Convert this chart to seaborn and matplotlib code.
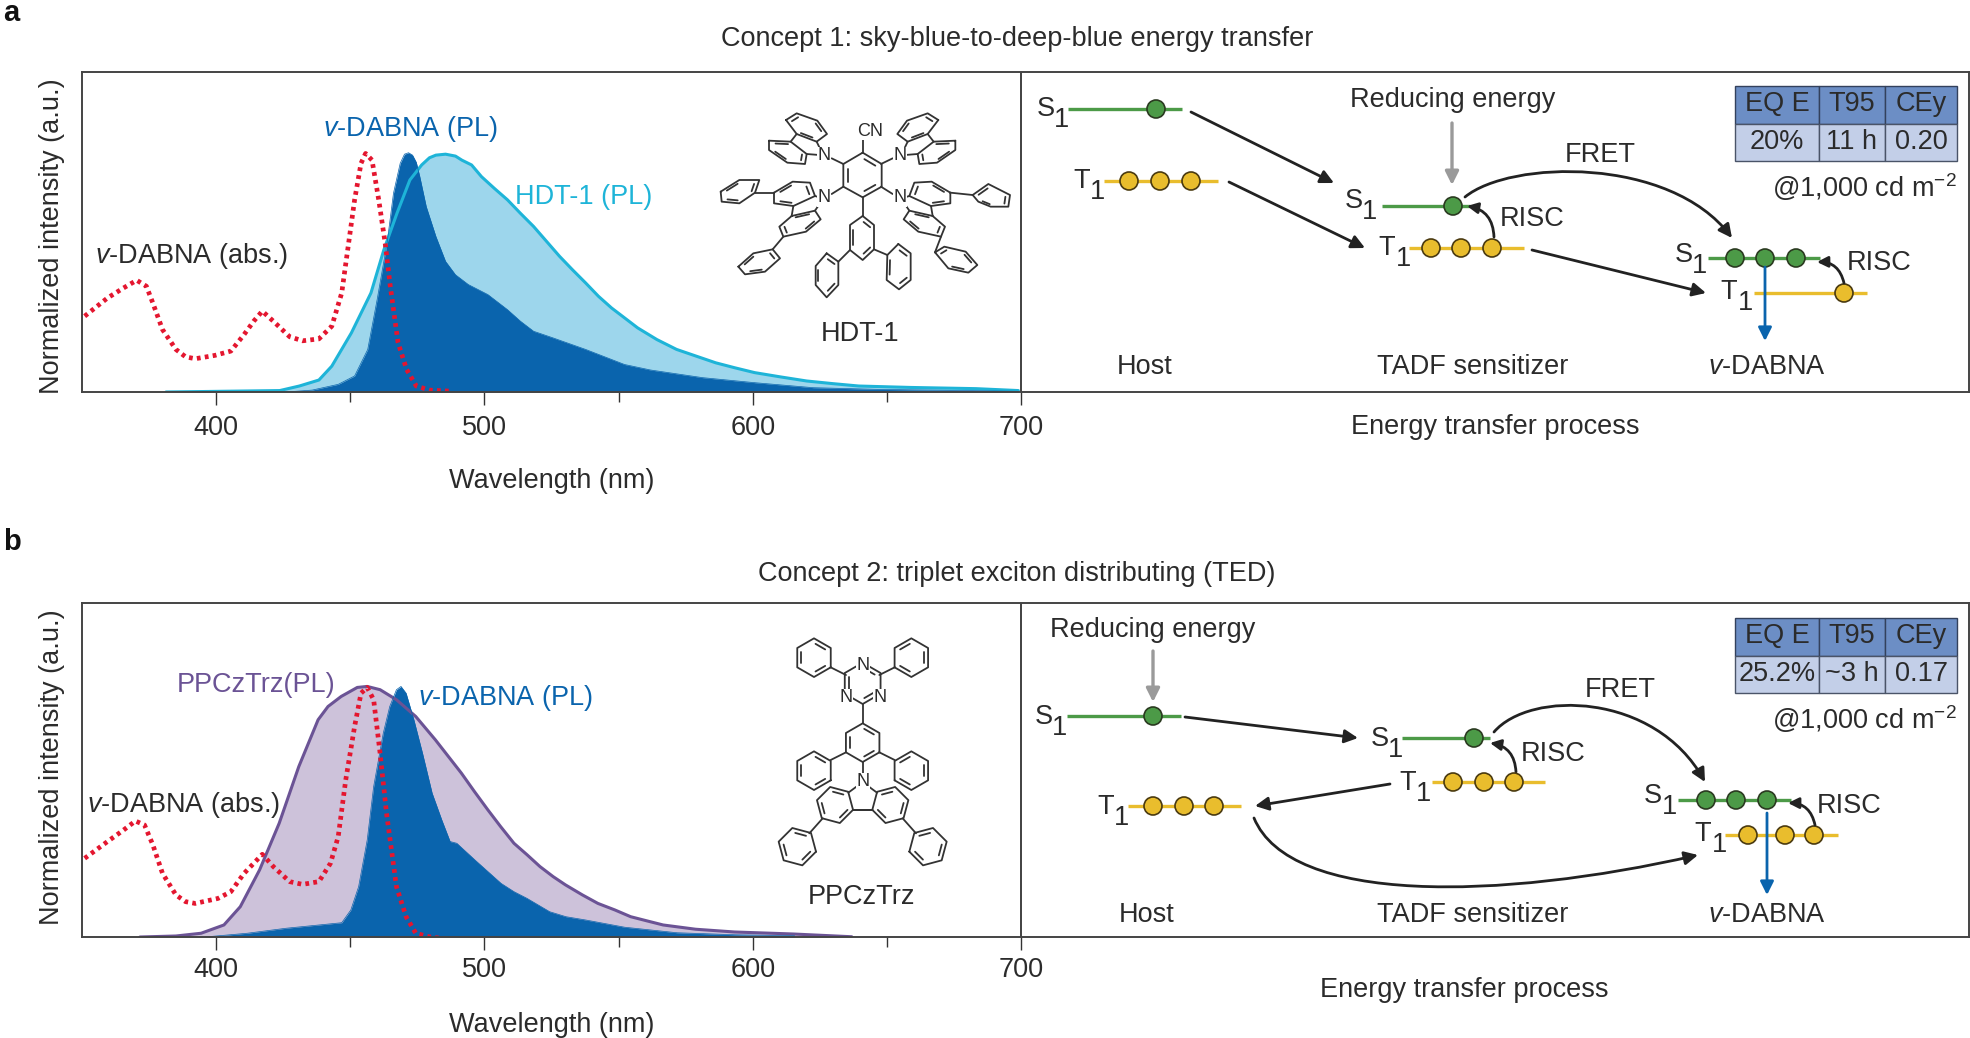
import numpy as np
import pandas as pd
import seaborn as sns
import matplotlib.pyplot as plt
from matplotlib.patches import Circle, Rectangle, FancyArrowPatch
from matplotlib.path import Path

# spectra (wavelength in nm, normalized intensity)
abs_a_nm = [351, 359.5, 365.5, 370.4, 374, 376.4, 380, 385, 388.6, 392.2, 399.5, 405.5, 410.4, 414, 417.2, 421.3,
            427.4, 432.2, 438.3, 443.1, 446.8, 449.2, 451.6, 454, 455.7, 458.1, 460.6, 463, 464.9, 467.8, 471,
            474.6, 479.5, 488]
abs_a_val = [0.317, 0.393, 0.435, 0.467, 0.442, 0.372, 0.261, 0.178, 0.147, 0.139, 0.153, 0.171, 0.24, 0.296, 0.338,
             0.296, 0.231, 0.214, 0.222, 0.275, 0.414, 0.608, 0.803, 0.956, 0.997, 0.969, 0.803, 0.622, 0.442,
             0.206, 0.094, 0.025, 0.008, 0.003]
hdt_nm = [381.3, 423.7, 431, 438.3, 443.1, 450.4, 457.7, 462.5, 467.4, 472.2, 476.6, 479.5, 481.9, 485.5, 489.2,
          491.6, 495.2, 498.9, 503.7, 508.6, 513.4, 518.3, 528, 532.8, 537.7, 542.5, 547.4, 552.2, 557.1, 564.3,
          571.6, 578.9, 586.2, 593.4, 600.7, 610.4, 620.1, 629.8, 639.5, 658.9, 683.2, 699]
hdt_val = [0, 0.006, 0.025, 0.05, 0.108, 0.247, 0.414, 0.594, 0.747, 0.886, 0.949, 0.979, 0.99, 0.994, 0.986,
           0.969, 0.949, 0.9, 0.851, 0.803, 0.747, 0.692, 0.567, 0.511, 0.456, 0.4, 0.351, 0.31, 0.268, 0.219,
           0.178, 0.15, 0.122, 0.101, 0.081, 0.063, 0.046, 0.035, 0.025, 0.019, 0.014, 0.006]
pl_a_nm = [426, 435.8, 445.5, 451.6, 456.5, 460, 463.7, 466.1, 468.6, 470.2, 471.7, 473.2, 474.6, 475.9, 478.3, 481.9,
           485.5, 489.2, 494, 501.3, 508.6, 513.4, 518.3, 525.6, 537.7, 552.2, 561.9, 581.3, 600.7, 622.6, 646.8, 699]
pl_a_val = [0, 0.008, 0.032, 0.067, 0.178, 0.386, 0.622, 0.831, 0.956, 0.994, 1, 0.99, 0.96, 0.9, 0.775, 0.65,
            0.546, 0.49, 0.449, 0.407, 0.344, 0.296, 0.254, 0.226, 0.178, 0.115, 0.092, 0.06, 0.039, 0.018, 0.011,
            0.003]

abs_b_nm = [351, 359.5, 365.5, 369.9, 373.3, 376.4, 380, 385, 388.6, 392.2, 400.7, 405.5, 410.4, 414, 417.2, 421.3,
            427.4, 432.2, 438.3, 442.6, 445.5, 448.3, 451.6, 454, 456.3, 458.7, 461.1, 463.5, 467.2, 470.8,
            474.4, 479.3, 486.6]
abs_b_val = [0.314, 0.381, 0.427, 0.463, 0.447, 0.368, 0.254, 0.168, 0.141, 0.134, 0.154, 0.181, 0.254, 0.294, 0.33,
             0.281, 0.221, 0.21, 0.221, 0.294, 0.401, 0.627, 0.84, 0.973, 0.996, 0.947, 0.734, 0.494, 0.201,
             0.081, 0.015, 0.001, -0.009]
ppc_nm = [371.6, 385, 394.4, 402.9, 409, 416.2, 423.5, 430.8, 438, 441.7, 446.6, 452.6, 456.3, 461.1, 467.2, 474.4,
          481.7, 491.4, 496.3, 501.3, 506, 511, 515.9, 520.7, 525.6, 530.2, 536.5, 542.3, 548.6, 554.5, 560.7,
          566.6, 578.7, 593.2, 615.1, 636.9]
ppc_val = [0, 0.004, 0.015, 0.048, 0.121, 0.268, 0.454, 0.68, 0.867, 0.92, 0.96, 0.996, 1, 0.987, 0.947, 0.88,
           0.787, 0.654, 0.58, 0.507, 0.441, 0.374, 0.328, 0.281, 0.241, 0.208, 0.168, 0.134, 0.108, 0.081, 0.064,
           0.048, 0.031, 0.02, 0.012, 0.001]
pl_b_nm = [395.8, 411.6, 426.1, 446.8, 450.2, 453.1, 456.3, 458.7, 462.3, 464.7, 467.2, 468.9, 470.8, 473.7, 476.9,
           480.5, 484.1, 487.2, 489.7, 496.4, 501.3, 506.2, 511, 515.9, 524.3, 530.4, 537.7, 552.3, 571.8, 593.4, 615.6]
pl_b_val = [0, 0.015, 0.035, 0.057, 0.108, 0.201, 0.387, 0.6, 0.814, 0.92, 0.987, 1, 0.973, 0.867, 0.734,
            0.574, 0.467, 0.381, 0.374, 0.308, 0.261, 0.214, 0.181, 0.154, 0.101, 0.081, 0.068, 0.039, 0.017, 0.009,
            0.005]

major_ticks = [400, 500, 600, 700]
minor_ticks = [450, 550, 650]

table_head = ['EQ E', 'T95', 'CEy']
table_a = ['20%', '11 h', '0.20']
table_b = ['25.2%', '~3 h', '0.17']

RED = '#e4162f'
BLUE = '#0a64ad'
CYAN = '#1eb4d8'
CYAN_FILL = '#9dd6ec'
PURPLE = '#6b5395'
PURPLE_FILL = '#cdc2da'
GREEN = '#4c9a47'
YELLOW = '#e9bd2d'
INK = '#2b2b2b'
FS = 19.5

sns.set_theme(style='white')
plt.rcParams['font.family'] = ['Liberation Sans', 'DejaVu Sans']
plt.rcParams['mathtext.fontset'] = 'custom'
plt.rcParams['mathtext.rm'] = 'Liberation Sans'
plt.rcParams['mathtext.it'] = 'Liberation Sans:italic'
plt.rcParams['mathtext.default'] = 'regular'

W, H = 1970, 1038
fig = plt.figure(figsize=(W / 100, H / 100), dpi=100)


def panel_axes(top, bottom, ymax):
    left, right = 82, 1969
    ax = fig.add_axes([left / W, 1 - bottom / H, (right - left) / W, (bottom - top) / H])
    ax.set_xlim(350, 350 + (right - left) / 2.683)
    ax.set_ylim(0, ymax)
    return ax


def spectrum(ax, nm, val, color, fill=None, lw=2.2):
    df = pd.DataFrame({'nm': nm, 'val': val})
    if fill is not None:
        ax.fill_between(df['nm'], 0, df['val'], color=fill, lw=0)
    sns.lineplot(data=df, x='nm', y='val', ax=ax, color=color, lw=lw, sort=False, estimator=None, errorbar=None)


def dress(ax, pad, xlabel_y, ylabel_y):
    ax.axvline(700, color='#333333', lw=1.3)
    ax.set_xticks(major_ticks)
    ax.set_xticks(minor_ticks, minor=True)
    ax.set_yticks([])
    ax.tick_params(axis='x', which='major', length=9.5, width=1, color='#333333', labelsize=FS, pad=pad,
                   labelcolor=INK, bottom=True)
    ax.tick_params(axis='x', which='minor', length=7, width=1, color='#333333', bottom=True)
    for s in ax.spines.values():
        s.set_color('#444444')
        s.set_linewidth(1.4)
    ax.set_xlabel('Wavelength (nm)', fontsize=FS, color=INK, va='center')
    ax.set_ylabel('Normalized intensity (a.u.)', fontsize=FS, color=INK, va='center')
    ax.xaxis.set_label_coords(0.249, xlabel_y)
    ax.yaxis.set_label_coords(-0.0157, ylabel_y)


# panel a
ax_a = panel_axes(72, 392, 1.3375)
spectrum(ax_a, hdt_nm, hdt_val, CYAN, CYAN_FILL)
spectrum(ax_a, pl_a_nm, pl_a_val, BLUE, BLUE, lw=0.5)
sns.lineplot(x=abs_a_nm, y=abs_a_val, ax=ax_a, color=RED, lw=3.4, linestyle=(0, (0.8, 0.9)), sort=False,
             estimator=None, errorbar=None)
dress(ax_a, 7, -0.277, 0.4875)

# panel b
ax_b = panel_axes(603, 937, 1.333)
spectrum(ax_b, ppc_nm, ppc_val, PURPLE, PURPLE_FILL)
spectrum(ax_b, pl_b_nm, pl_b_val, BLUE, BLUE, lw=0.5)
sns.lineplot(x=abs_b_nm, y=abs_b_val, ax=ax_b, color=RED, lw=3.4, linestyle=(0, (0.8, 0.9)), sort=False,
             estimator=None, errorbar=None)
ax_b.set_ylim(0, 1.333)
dress(ax_b, 5, -0.263, 0.5075)

# overlay in figure pixels for the labels, schematics and molecules
ov = fig.add_axes([0, 0, 1, 1], zorder=5)
ov.set_xlim(0, W)
ov.set_ylim(H, 0)
ov.axis('off')


def label(x, y, s, color=INK, size=FS, **kw):
    ov.text(x, y + 2, s, color=color, fontsize=size, ha=kw.pop('ha', 'center'), va='center', **kw)


def arrow(a, b, color='#222222', rad=0.0, lw=2.0, ms=20):
    ov.annotate('', xy=b, xytext=a,
                arrowprops=dict(arrowstyle='-|>', color=color, lw=lw, mutation_scale=ms, shrinkA=0, shrinkB=0,
                                connectionstyle=f'arc3,rad={rad}'))


def curve(a, c1, c2, b):
    p = Path([a, c1, c2, b], [Path.MOVETO, Path.CURVE4, Path.CURVE4, Path.CURVE4])
    ov.add_patch(FancyArrowPatch(path=p, arrowstyle='-|>', color='#222222', lw=2.0, mutation_scale=20))


def level(x0, x1, y, color, dots):
    ov.plot([x0, x1], [y, y], color=color, lw=2.4, solid_capstyle='butt', zorder=2)
    for d in dots:
        ov.add_patch(Circle((d, y), 9, fc=color, ec='#2a3a20' if color == GREEN else '#4a3a10', lw=1.2, zorder=3))


def state(x, y, letter):
    label(x, y, letter)
    label(x + 16, y + 11, '1')


def table(y0, row):
    xs = [1735, 1819, 1885, 1957]
    for i in range(3):
        ov.add_patch(Rectangle((xs[i], y0), xs[i + 1] - xs[i], 38, fc='#6c8ec5', ec='#33415c', lw=1))
        ov.add_patch(Rectangle((xs[i], y0 + 38), xs[i + 1] - xs[i], 37, fc='#c3cfe8', ec='#4a5468', lw=1))
        cx = (xs[i] + xs[i + 1]) / 2
        label(cx, y0 + 16, table_head[i])
        label(cx, y0 + 54, row[i])


def outline(f, verts, inner=(0, 2, 4)):
    v = np.array(verts + verts[:1], float)
    f(v[:, 0], v[:, 1])
    c = v[:-1].mean(axis=0)
    for k in inner:
        a = c + 0.76 * (v[k] - c)
        b = c + 0.76 * (v[k + 1] - c)
        f([a[0] + 0.12 * (b[0] - a[0]), b[0] - 0.12 * (b[0] - a[0])],
          [a[1] + 0.12 * (b[1] - a[1]), b[1] - 0.12 * (b[1] - a[1])])


def ring(f, cx, cy, r=60, rot=30, inner=(0, 2, 4)):
    ang = np.radians(rot + 60 * np.arange(6))
    outline(f, list(zip(cx + r * np.cos(ang), cy + r * np.sin(ang))), inner)


def drawer(ox, oy, mirror=None):
    # coordinates below are on a 3x grid of the molecule sketch
    def f(xs, ys):
        xs = np.asarray(xs, float)
        ys = np.asarray(ys, float)
        if mirror is not None:
            xs = 2 * mirror - xs
        ov.plot(ox + xs / 3, oy + ys / 3, color='#333333', lw=1.3, solid_capstyle='round', zorder=2)
    return f


def hdt_side(f):
    outline(f, [(258, 90), (290, 70), (352, 92), (381, 132), (350, 155), (290, 132)])
    outline(f, [(207, 152), (272, 155), (320, 192), (315, 222), (262, 218), (207, 180)])
    f([290, 272], [132, 155])
    f([350, 362], [155, 180])
    f([320, 358], [192, 195])
    f([395, 430], [205, 222])
    outline(f, [(222, 308), (278, 275), (330, 278), (345, 318), (280, 348), (222, 340)])
    outline(f, [(275, 378), (345, 362), (362, 388), (318, 425), (250, 440), (238, 410)])
    f([280, 275], [348, 378])
    f([345, 358], [318, 322])
    f([345, 360], [362, 340])
    f([395, 430], [312, 290])


def draw_hdt():
    f = drawer(700, 90)
    outline(f, [(488, 188), (545, 222), (545, 290), (488, 322), (430, 290), (430, 222)])
    f([488, 488], [188, 150])
    f([488, 488], [322, 378])
    outline(f, [(488, 378), (522, 405), (522, 478), (488, 510), (450, 480), (450, 405)])
    outline(f, [(380, 490), (415, 515), (415, 585), (380, 622), (347, 585), (347, 528)])
    f([450, 415], [480, 515])
    outline(f, [(595, 462), (632, 490), (632, 570), (597, 598), (560, 570), (562, 495)])
    f([522, 562], [478, 495])
    hdt_side(f)
    hdt_side(drawer(700, 90, mirror=486.5))
    # outer phenyls of the two lower carbazoles
    outline(f, [(62, 305), (118, 270), (178, 270), (165, 308), (118, 340), (65, 335)])
    f([165, 222], [308, 308])
    outline(f, [(115, 530), (160, 490), (218, 478), (240, 505), (195, 545), (135, 553)])
    f([218, 250], [478, 440])
    outline(f, [(818, 315), (865, 282), (930, 315), (925, 350), (872, 350), (835, 335)])
    f([751, 818], [308, 315])
    outline(f, [(705, 487), (733, 470), (797, 485), (832, 525), (805, 548), (745, 535)])
    f([723, 705], [440, 487])
    for x, y, s in [(870, 130, 'CN'), (824, 155, 'N'), (900, 155, 'N'), (824, 197, 'N'), (900, 197, 'N')]:
        ov.text(x, y + 1, s, fontsize=13, color=INK, ha='center', va='center', zorder=4,
                bbox=dict(fc='white', ec='none', pad=0.3))


def ppc_side(f):
    ring(f, 222, 113, 58, 30)
    f([272, 318], [142, 165])
    ring(f, 222, 452, 58, 30)
    f([318, 272], [397, 420])
    ring(f, 285, 555, 56, 15)
    f([325, 356], [518, 495])
    f([340, 396], [570, 570])
    ring(f, 172, 680, 58, 15)
    f([248, 208], [595, 640])


def draw_ppc():
    f = drawer(740, 620)
    ring(f, 368, 190, 62, 30, inner=(0, 2, 4))
    f([368, 368], [252, 310])
    ring(f, 368, 368, 58, 30)
    f([368, 368], [426, 462])
    ppc_side(f)
    ppc_side(drawer(740, 620, mirror=368))
    for x, y, s in [(863, 664, 'N'), (846, 697, 'N'), (880, 697, 'N'), (863, 781, 'N')]:
        ov.text(x, y + 1, s, fontsize=13, color=INK, ha='center', va='center', zorder=4,
                bbox=dict(fc='white', ec='none', pad=0.3))


V = r'$\mathit{v}$'

# panel labels and titles
ov.text(3, 21, 'a', fontsize=21, fontweight='bold', color='#111111', ha='left', va='baseline')
ov.text(3, 550, 'b', fontsize=21, fontweight='bold', color='#111111', ha='left', va='baseline')
label(1017, 37, 'Concept 1: sky-blue-to-deep-blue energy transfer')
label(1017, 572, 'Concept 2: triplet exciton distributing (TED)')
label(1495, 425, 'Energy transfer process')
label(1464, 988, 'Energy transfer process')

# panel a labels
label(411, 127, V + '-DABNA (PL)', color=BLUE)
label(584, 195, 'HDT-1 (PL)', color=CYAN)
label(192, 254, V + '-DABNA (abs.)')
label(860, 332, 'HDT-1')
draw_hdt()

# panel a schematic
level(1068, 1182, 109, GREEN, [1156])
state(1046, 107, 'S')
level(1104, 1218, 181, YELLOW, [1129, 1160, 1191])
state(1082, 179, 'T')
arrow((1191, 112), (1334, 183))
arrow((1229, 182), (1365, 248))
label(1453, 98, 'Reducing energy')
arrow((1452, 123), (1452, 185), color='#9a9a9a', lw=2.4)
level(1382, 1470, 206, GREEN, [1453])
state(1354, 199, 'S')
level(1409, 1524, 248, YELLOW, [1431, 1461, 1492])
state(1387, 246, 'T')
label(1532, 217, 'RISC')
arrow((1494, 237), (1467, 206), rad=0.4, ms=16)
label(1600, 153, 'FRET')
curve((1465, 197), (1510, 160), (1670, 156), (1732, 238))
arrow((1532, 250), (1706, 293))
level(1708, 1820, 258, GREEN, [1735, 1765, 1796])
state(1684, 253, 'S')
level(1754, 1867, 293, YELLOW, [1844])
state(1729, 290, 'T')
label(1879, 261, 'RISC')
arrow((1844, 283), (1817, 262), rad=0.4, ms=16)
arrow((1765, 267), (1765, 341), color=BLUE, lw=2)
label(1145, 365, 'Host')
label(1473, 365, 'TADF sensitizer')
label(1767, 365, V + '-DABNA')
table(86, table_a)
label(1957, 185, '@1,000 cd m$^{\u22122}$', ha='right')

# panel b labels
label(256, 683, 'PPCzTrz(PL)', color=PURPLE)
label(506, 696, V + '-DABNA (PL)', color=BLUE)
label(184, 803, V + '-DABNA (abs.)')
label(861, 895, 'PPCzTrz')
draw_ppc()

# panel b schematic
label(1153, 628, 'Reducing energy')
arrow((1153, 651), (1153, 702), color='#9a9a9a', lw=2.4)
level(1067, 1181, 716, GREEN, [1153])
state(1044, 715, 'S')
arrow((1185, 717), (1358, 738))
level(1402, 1490, 738, GREEN, [1474])
state(1380, 737, 'S')
label(1553, 752, 'RISC')
arrow((1516, 772), (1490, 743), rad=0.4, ms=16)
level(1432, 1545, 782, YELLOW, [1453, 1484, 1514])
state(1408, 781, 'T')
arrow((1390, 784), (1255, 806))
level(1128, 1241, 806, YELLOW, [1153, 1184, 1214])
state(1106, 805, 'T')
curve((1254, 818), (1290, 905), (1500, 900), (1698, 855))
label(1620, 688, 'FRET')
curve((1494, 732), (1530, 690), (1655, 692), (1705, 782))
level(1678, 1791, 800, GREEN, [1706, 1736, 1767])
state(1653, 794, 'S')
level(1725, 1838, 835, YELLOW, [1748, 1785, 1814])
state(1703, 832, 'T')
label(1849, 804, 'RISC')
arrow((1815, 825), (1788, 803), rad=0.4, ms=16)
arrow((1767, 813), (1767, 895), color=BLUE, lw=2)
label(1147, 913, 'Host')
label(1473, 913, 'TADF sensitizer')
label(1767, 913, V + '-DABNA')
table(618, table_b)
label(1957, 717, '@1,000 cd m$^{\u22122}$', ha='right')

fig.savefig('out.png', dpi=100)
